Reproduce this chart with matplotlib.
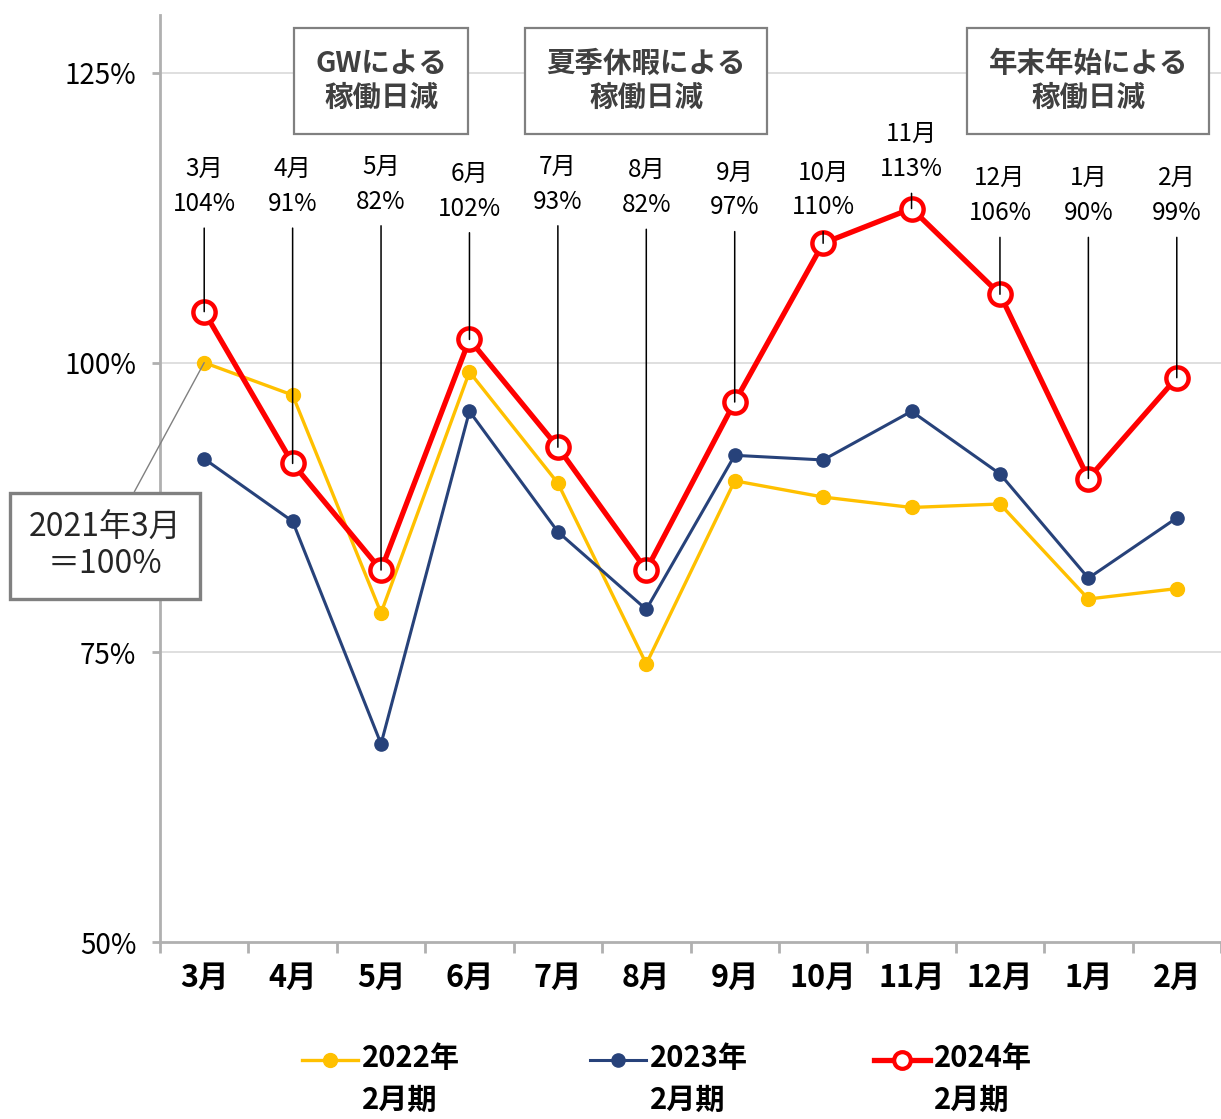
import matplotlib.pyplot as plt
from matplotlib.lines import Line2D

plt.rcParams['font.family'] = ['Noto Sans CJK JP', 'DejaVu Sans']

# categories and series (index, 2021年3月 = 100%)
months = ['3月', '4月', '5月', '6月', '7月', '8月', '9月', '10月', '11月', '12月', '1月', '2月']
fy2022 = [100.0, 97.2, 78.4, 99.2, 89.6, 74.0, 89.8, 88.4, 87.5, 87.8, 79.6, 80.5]
fy2023 = [91.7, 86.3, 67.1, 95.8, 85.4, 78.7, 92.0, 91.6, 95.8, 90.4, 81.4, 86.6]
fy2024 = [104.4, 91.3, 82.1, 102.0, 92.7, 82.1, 96.6, 110.3, 113.3, 105.9, 90.0, 98.7]
fy2024_labels = ['104%', '91%', '82%', '102%', '93%', '82%', '97%', '110%', '113%', '106%', '90%', '99%']
series_names = ['2022年\n2月期', '2023年\n2月期', '2024年\n2月期']
yticks = [50, 75, 100, 125]

# label heights (layout only)
label_y = [115.2, 115.2, 115.4, 114.8, 115.4, 115.1, 114.9, 114.9, 118.2, 114.4, 114.4, 114.4]

YELLOW = '#FFC000'
NAVY = '#27427A'
RED = '#FF0000'
GRAY = '#B0B0B0'

fig = plt.figure(figsize=(12.21, 11.19), dpi=100)
ax = fig.add_axes([160 / 1221, 177 / 1119, 1061 / 1221, 927 / 1119])

x = list(range(len(months)))
ax.plot(x, fy2022, color=YELLOW, lw=2.4, marker='o', ms=10, zorder=3)
ax.plot(x, fy2023, color=NAVY, lw=2.2, marker='o', ms=9.5, zorder=3)
ax.plot(x, fy2024, color=RED, lw=3.8, marker='o', ms=16, mfc='white',
        mec=RED, mew=3.2, zorder=4)

ax.set_xlim(-0.5, 11.5)
ax.set_ylim(50, 130)

# axes styling
for s in ['top', 'right']:
    ax.spines[s].set_visible(False)
for s in ['left', 'bottom']:
    ax.spines[s].set_color(GRAY)
    ax.spines[s].set_linewidth(2)

ax.set_yticks(yticks)
ax.set_yticklabels([f'{v}%' for v in yticks], fontsize=20)
ax.tick_params(axis='y', length=6, width=2, color=GRAY, pad=11)
for v in yticks[1:]:
    ax.axhline(v, color='#D9D9D9', lw=1.2, zorder=1)

ax.set_xticks(x)
ax.set_xticklabels(months, fontsize=22, fontweight='bold')
ax.tick_params(axis='x', length=0, pad=14)
ax.set_xticks([i - 0.5 for i in range(len(months) + 1)], minor=True)
ax.tick_params(axis='x', which='minor', length=8, width=2, color=GRAY)

# data labels for the 2024 series with leader lines
for i in x:
    ax.annotate(f'{months[i]}\n{fy2024_labels[i]}', xy=(i, fy2024[i]), xytext=(i, label_y[i]),
                ha='center', va='center', fontsize=17.5, linespacing=1.45,
                arrowprops=dict(arrowstyle='-', color='black', lw=1.1,
                                shrinkA=6, shrinkB=0),
                zorder=6)

# annotation boxes at the top
box_kw = dict(ha='center', va='center', fontsize=20.5, fontweight='bold', color='#404040',
              linespacing=1.3, transform=ax.transData,
              bbox=dict(boxstyle='square,pad=0.75', fc='white', ec='#808080', lw=1.6))
ax.text(2, 124.3, 'GWによる\n稼働日減', **box_kw)
ax.text(5, 124.3, '夏季休暇による\n稼働日減', **box_kw)
ax.text(10, 124.3, '年末年始による\n稼働日減', **box_kw)

# base note
ax.annotate('2021年3月\n＝100%', xy=(0, fy2022[0]), xytext=(105 / 1221, (1119 - 546) / 1119),
            textcoords='figure fraction', ha='center', va='center', fontsize=23,
            color='#262626', linespacing=1.15,
            bbox=dict(boxstyle='square,pad=0.6', fc='white', ec='#808080', lw=2.4),
            arrowprops=dict(arrowstyle='-', color='#808080', lw=1.0, shrinkA=0, shrinkB=0),
            annotation_clip=False, zorder=7)

# legend drawn at the bottom
styles = [dict(color=YELLOW, lw=2.4, marker='o', ms=10),
          dict(color=NAVY, lw=2.2, marker='o', ms=9.5),
          dict(color=RED, lw=3.8, marker='o', ms=12, mfc='white', mec=RED, mew=3)]
leg_x = [302, 590, 874]
for lx, name, st in zip(leg_x, series_names, styles):
    y0 = (1119 - 1060) / 1119
    fig.add_artist(Line2D([lx / 1221, (lx + 28) / 1221, (lx + 56) / 1221], [y0, y0, y0],
                          markevery=[1], **st))
    fig.text((lx + 60) / 1221, (1119 - 1043) / 1119, name, ha='left', va='top',
             fontsize=21, fontweight='bold', linespacing=1.5)

fig.savefig('out.png', dpi=100)
